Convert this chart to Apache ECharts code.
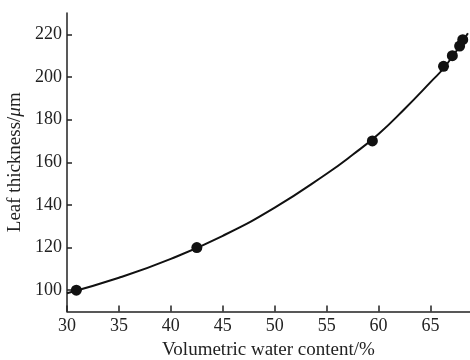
<!DOCTYPE html>
<html><head><meta charset="utf-8">
<script src="https://cdn.jsdelivr.net/npm/echarts@6/dist/echarts.min.js"></script>
<style>html,body{margin:0;padding:0;background:#fff}#c{width:470px;height:360px}</style>
</head><body><div id="c"></div>
<script>
var pointX = [30.9, 42.5, 59.4, 66.25, 67.1, 67.8, 68.1];
var pointY = [100, 120, 170, 205, 210, 214.5, 217.5];
var curveX = [30.0, 35, 40, 45, 50, 55, 57.5, 60, 62.5, 65, 66.5, 68.6];
var curveY = [98.6, 105.8, 114.7, 125.5, 138.7, 154.6, 163.5, 173.3, 185, 197.6, 205.5, 220.5];
var xTicks = [30, 35, 40, 45, 50, 55, 60, 65];
var yTicks = [100, 120, 140, 160, 180, 200, 220];

var pts = pointX.map(function (x, i) { return [x, pointY[i]]; });
var crv = curveX.map(function (x, i) { return [x, curveY[i]]; });
var font = 'Liberation Serif';
var chart = echarts.init(document.getElementById('c'));
chart.setOption({
  animation: false,
  grid: { left: 67, right: 0, top: 13, bottom: 48.5, containLabel: false, outerBoundsMode: 'none' },
  xAxis: {
    type: 'value', min: 30, max: 68.8,
    name: 'Volumetric water content/%', nameLocation: 'middle', nameGap: 27,
    nameTextStyle: { fontFamily: font, fontSize: 19, color: '#222' },
    axisLine: { lineStyle: { color: '#222', width: 1.5 } },
    axisTick: { inside: true, length: 6, customValues: xTicks, lineStyle: { color: '#222', width: 1.5 } },
    axisLabel: { customValues: xTicks, fontFamily: font, fontSize: 18, color: '#222', margin: 6 },
    splitLine: { show: false }
  },
  yAxis: {
    type: 'value', min: 90, max: 230,
    name: '{a|Leaf thickness/}{b|μ}{a|m}', nameLocation: 'middle', nameGap: 37,
    nameTextStyle: { rich: { a: { fontFamily: font, fontSize: 19, color: '#222' }, b: { fontFamily: font, fontSize: 19, fontStyle: 'italic', color: '#222' } } },
    axisLine: { show: true, lineStyle: { color: '#222', width: 1.5 } },
    axisTick: { show: true, inside: true, length: 5, customValues: yTicks, lineStyle: { color: '#222', width: 1.5 } },
    axisLabel: { customValues: yTicks, fontFamily: font, fontSize: 18, color: '#222', margin: 5 },
    splitLine: { show: false }
  },
  series: [
    { type: 'line', data: crv, smooth: true, showSymbol: false, lineStyle: { color: '#111', width: 2 }, z: 2 },
    { type: 'scatter', data: pts, symbolSize: 11, itemStyle: { color: '#111', opacity: 1 }, z: 3 }
  ]
});
</script></body></html>
